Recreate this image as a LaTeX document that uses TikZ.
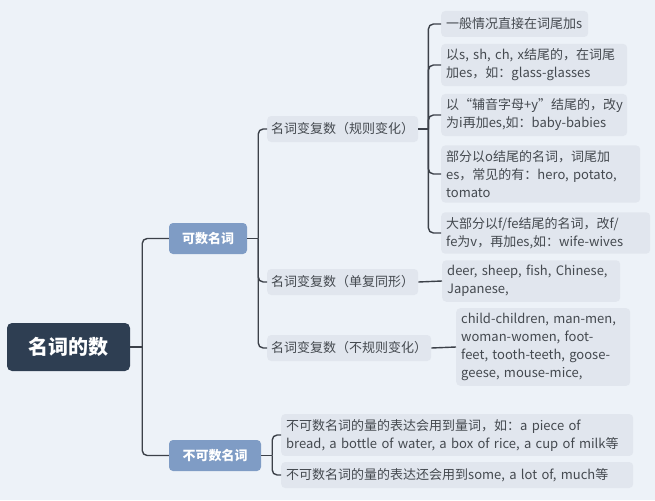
\documentclass[tikz,border=0pt]{standalone}
\usepackage{fontspec}
\setmainfont{Noto Sans CJK SC}
\usetikzlibrary{positioning}
\definecolor{mapbg}{HTML}{EDF2F8}
\definecolor{mapdark}{HTML}{2E3E52}
\definecolor{mapblue}{HTML}{7F9CC5}
\definecolor{mapgrey}{HTML}{E1E6EE}
\definecolor{mapline}{HTML}{3C4149}
\definecolor{maptext}{HTML}{44494F}
\tikzset{
  rootbox/.style={rectangle, rounded corners=5pt, fill=mapdark, text=white,
                  minimum width=123pt, minimum height=48pt,
                  font=\fontsize{20}{24}\selectfont\bfseries},
  catbox/.style={rectangle, rounded corners=4pt, fill=mapblue, text=white,
                 minimum height=31pt, font=\fontsize{13}{16}\selectfont\bfseries},
  subbox/.style={rectangle, rounded corners=4pt, fill=mapgrey, text=maptext,
                 anchor=west, minimum height=26pt, inner xsep=4pt,
                 font=\fontsize{13}{16}\selectfont},
  leaf/.style={subbox, align=left, inner xsep=5pt, inner ysep=5pt,
               font=\fontsize{13}{18}\selectfont},
  link/.style={draw=mapline, line width=1.4pt, rounded corners=5pt},
}
\begin{document}
\begin{tikzpicture}[x=1pt, y=-1pt]
  \fill[mapbg] (0,0) rectangle (655,500);
  % root and first level
  \node[rootbox] (num) at (68.5,347) {名词的数};
  \node[catbox, minimum width=78pt] (count) at (208,238.5) {可数名词};
  \node[catbox, minimum width=92pt] (uncount) at (215,455.5) {不可数名词};
  % second level
  \node[subbox] (regular) at (267,129) {名词变复数（规则变化）};
  \node[subbox] (same) at (267,282) {名词变复数（单复同形）};
  \node[subbox] (irregular) at (267,348) {名词变复数（不规则变化）};
  % leaves
  \node[leaf, text width=137pt] (rule1) at (441,24) {一般情况直接在词尾加s};
  \node[leaf, text width=176pt] (rule2) at (441,65) {以s, sh, ch, x结尾的，在词尾\\加es，如：glass-glasses};
  \node[leaf, text width=176pt] (rule3) at (441,115) {以“辅音字母+y”结尾的，改y\\为i再加es,如：baby-babies};
  \node[leaf, text width=189pt] (rule4) at (441,174) {部分以o结尾的名词，词尾加\\es，常见的有：hero, potato,\\tomato};
  \node[leaf, text width=199pt] (rule5) at (441,233) {大部分以f/fe结尾的名词，改f/\\fe为v，再加es,如：wife-wives};
  \node[leaf, text width=168pt] (samelist) at (442,281) {deer, sheep, fish, Chinese,\\Japanese,};
  \node[leaf, text width=164pt] (irrlist) at (456,347) {child-children, man-men,\\woman-women, foot-\\feet, tooth-teeth, goose-\\geese, mouse-mice,};
  \node[leaf, text width=342pt] (measure) at (281,435) {不可数名词的量的表达会用到量词，如：a piece of\\bread, a bottle of water, a box of rice, a cup of milk等};
  \node[leaf, text width=342pt] (some) at (281,475) {不可数名词的量的表达还会用到some, a lot of, much等};
  % connectors
  \draw[link] (num.east) -- ++(12,0);
  \foreach \c in {count, uncount} \draw[link] ([xshift=12pt]num.east) |- (\c.west);
  \draw[link] (count.east) -- ++(11,0);
  \foreach \c in {regular, same, irregular} \draw[link] ([xshift=11pt]count.east) |- (\c.west);
  \draw[link] (regular.east) -- ++(10,0);
  \foreach \c in {rule1, rule2, rule3, rule4, rule5} \draw[link] ([xshift=10pt]regular.east) |- (\c.west);
  \draw[link] (same.east) -- (samelist.west);
  \draw[link] (irregular.east) -- (irrlist.west);
  \draw[link] (uncount.east) -- ++(11,0);
  \foreach \c in {measure, some} \draw[link] ([xshift=11pt]uncount.east) |- (\c.west);
\end{tikzpicture}
\end{document}
